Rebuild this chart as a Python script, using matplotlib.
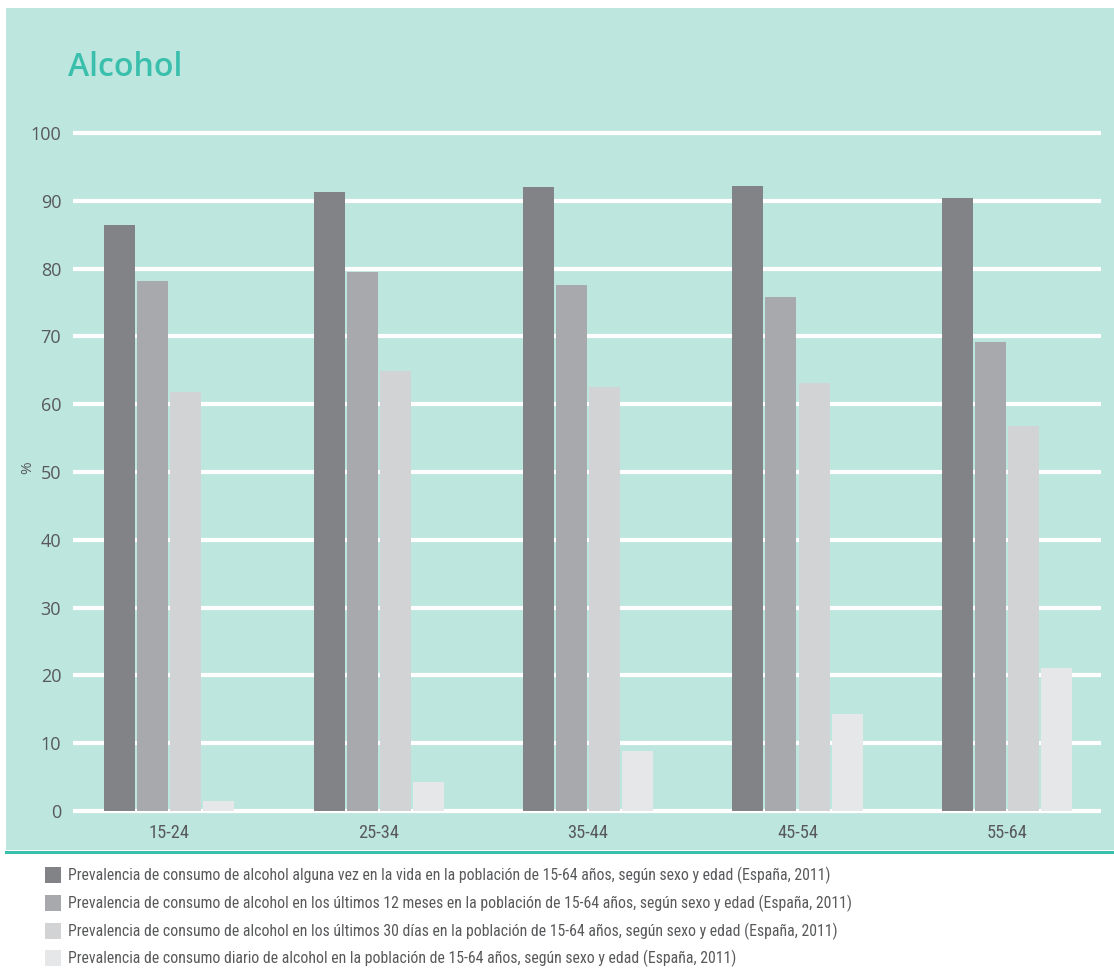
import matplotlib
matplotlib.use("Agg")
import matplotlib.pyplot as plt
from matplotlib.patches import Rectangle
from matplotlib.lines import Line2D
from matplotlib import font_manager
import numpy as np

# Age groups and prevalence (%) of alcohol consumption, Spain 2011
age_groups = ["15-24", "25-34", "35-44", "45-54", "55-64"]
alguna_vez = [86.4, 91.3, 92.0, 92.2, 90.4]
ultimos_12_meses = [78.2, 79.5, 77.6, 75.8, 69.2]
ultimos_30_dias = [61.8, 64.9, 62.5, 63.1, 56.8]
diario = [1.5, 4.3, 8.8, 14.3, 21.1]

series_labels = [
    "Prevalencia de consumo de alcohol alguna vez en la vida en la población de 15-64 años, según sexo y edad (España, 2011)",
    "Prevalencia de consumo de alcohol en los últimos 12 meses en la población de 15-64 años, según sexo y edad (España, 2011)",
    "Prevalencia de consumo de alcohol en los últimos 30 días en la población de 15-64 años, según sexo y edad (España, 2011)",
    "Prevalencia de consumo diario de alcohol en la población de 15-64 años, según sexo y edad (España, 2011)",
]
y_ticks = list(range(0, 101, 10))

series_colors = ["#828387", "#A8A9AD", "#D1D3D4", "#E6E7E8"]
panel_bg = "#BDE6DE"
accent = "#3BBFAD"
text_gray = "#58595B"

# Prefer a condensed face for the small labels when one is installed
installed = {f.name for f in font_manager.fontManager.ttflist}
condensed_choices = ["Roboto Condensed", "Open Sans Condensed",
                     "Liberation Sans Narrow", "Noto Sans Display"]
narrow_face = next((n for n in condensed_choices if n in installed), None)
narrow = [narrow_face, "Roboto", "DejaVu Sans"] if narrow_face else ["Roboto", "DejaVu Sans"]
narrow_stretch = "condensed"

W, H = 1114, 974
fig = plt.figure(figsize=(W / 100, H / 100), dpi=100)
fig.patch.set_facecolor("white")

def fx(px):
    return px / W

def fy(py):
    return 1 - py / H

# Mint panel behind the chart and its teal bottom rule
fig.add_artist(Rectangle((fx(6), fy(850)), fx(W - 6), fy(8) - fy(850),
                         transform=fig.transFigure, facecolor=panel_bg,
                         edgecolor="none", zorder=0))
fig.add_artist(Line2D([fx(6), 1], [fy(851.5), fy(851.5)],
                      transform=fig.transFigure, color=accent, lw=2.2, zorder=1))

fig.text(fx(68), fy(68), "Alcohol", color=accent, fontsize=23,
         fontfamily=["Open Sans", "DejaVu Sans"], fontweight="semibold",
         ha="left", va="center")

ax_left, ax_right, ax_top, ax_bottom = 73, 1101, 129, 815
ax = fig.add_axes([fx(ax_left), fy(ax_bottom), fx(ax_right - ax_left),
                   fy(ax_top) - fy(ax_bottom)])
ax.set_facecolor("none")
for s in ax.spines.values():
    s.set_visible(False)

x = np.arange(len(age_groups))
pitch = 0.1577
width = 0.148
all_series = [alguna_vez, ultimos_12_meses, ultimos_30_dias, diario]
for i, (vals, col) in enumerate(zip(all_series, series_colors)):
    ax.bar(x + (i - 1.5) * pitch, vals, width=width, color=col,
           edgecolor="none", zorder=3)

ax.set_ylim(-0.6, 100.6)
ax.set_xlim(-0.4588, 4.449)
ax.set_yticks(y_ticks)
ax.set_yticklabels([str(t) for t in y_ticks])
ax.set_xticks(x)
ax.set_xticklabels(age_groups)
ax.yaxis.grid(True, color="white", lw=3)
ax.set_axisbelow(True)
ax.tick_params(axis="y", length=0, pad=8.5, labelsize=13, labelcolor=text_gray)
ax.tick_params(axis="x", length=0, pad=6.5, labelsize=13.2, labelcolor=text_gray)
for lab in ax.get_yticklabels():
    lab.set_fontfamily(["Open Sans", "DejaVu Sans"])
for lab in ax.get_xticklabels():
    lab.set_fontfamily(narrow)
    lab.set_fontstretch(narrow_stretch)

fig.text(fx(28), fy(468), "%", rotation=90, color=text_gray, fontsize=11,
         fontfamily=["Open Sans", "DejaVu Sans"], ha="center", va="center")

# Legend rows below the panel
rows_y = [875, 903, 931, 958]
for lbl, col, ry in zip(series_labels, series_colors, rows_y):
    fig.add_artist(Rectangle((fx(45), fy(ry + 8)), fx(16), fy(ry - 8) - fy(ry + 8),
                             transform=fig.transFigure, facecolor=col,
                             edgecolor="none"))
    fig.text(fx(68), fy(ry), lbl, color=text_gray, fontsize=11.3,
             fontfamily=narrow, fontstretch=narrow_stretch,
             ha="left", va="center")

fig.savefig("out.png", dpi=100, facecolor=fig.get_facecolor())
